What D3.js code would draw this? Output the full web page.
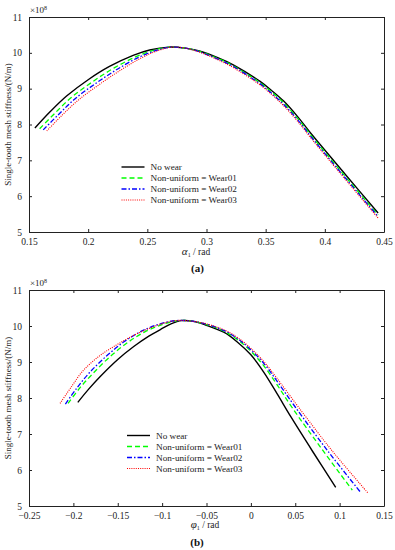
<!DOCTYPE html>
<html>
<head>
<meta charset="utf-8">
<script src="https://cdn.jsdelivr.net/npm/d3@7"></script>
<style>
  body { margin: 0; background: #fff; }
  svg { display: block; font-family: "Liberation Serif", "Times New Roman", serif; }
  .axis path, .axis line { stroke: #222; }
  .axis text { fill: #222; font-size: 9.5px; font-family: "Liberation Serif", "Times New Roman", serif; }
</style>
</head>
<body>
<svg id="chart" width="395" height="550"></svg>
<script>
// ---- data: [angle (rad), stiffness (x10^8 N/m)] ----
var seriesNames = ["No wear", "Non-uniform = Wear01", "Non-uniform = Wear02", "Non-uniform = Wear03"];

var aNoWear = [[0.155,7.90],[0.168,8.36],[0.182,8.80],[0.200,9.25],[0.218,9.62],[0.238,9.93],[0.252,10.08],[0.268,10.16],[0.282,10.13],[0.294,10.05],[0.310,9.86],[0.323,9.66],[0.345,9.21],[0.355,8.95],[0.365,8.66],[0.377,8.22],[0.389,7.72],[0.417,6.62],[0.445,5.53]];
var aWear01 = [[0.159,7.88],[0.172,8.32],[0.186,8.76],[0.204,9.20],[0.222,9.58],[0.241,9.90],[0.255,10.07],[0.269,10.16],[0.282,10.13],[0.294,10.04],[0.310,9.84],[0.323,9.63],[0.345,9.17],[0.355,8.91],[0.365,8.61],[0.377,8.17],[0.389,7.67],[0.417,6.56],[0.445,5.47]];
var aWear02 = [[0.162,7.85],[0.175,8.28],[0.189,8.72],[0.207,9.16],[0.225,9.55],[0.243,9.88],[0.257,10.06],[0.270,10.16],[0.282,10.13],[0.294,10.03],[0.310,9.82],[0.323,9.61],[0.345,9.14],[0.355,8.87],[0.365,8.57],[0.377,8.13],[0.389,7.63],[0.417,6.52],[0.445,5.43]];
var aWear03 = [[0.165,7.82],[0.178,8.26],[0.192,8.69],[0.210,9.13],[0.228,9.53],[0.245,9.86],[0.258,10.05],[0.271,10.16],[0.282,10.13],[0.294,10.02],[0.310,9.80],[0.323,9.58],[0.345,9.11],[0.355,8.84],[0.365,8.53],[0.377,8.09],[0.389,7.59],[0.417,6.48],[0.445,5.39]];

var bNoWear = [[-0.195,7.88],[-0.183,8.24],[-0.170,8.59],[-0.150,9.07],[-0.132,9.43],[-0.115,9.72],[-0.102,9.90],[-0.090,10.06],[-0.078,10.15],[-0.065,10.13],[-0.050,10.02],[-0.030,9.82],[-0.015,9.55],[0.000,9.20],[0.015,8.70],[0.030,8.10],[0.045,7.48],[0.070,6.50],[0.0956,5.52]];
var bWear01 = [[-0.206,7.85],[-0.192,8.30],[-0.178,8.68],[-0.160,9.12],[-0.140,9.52],[-0.120,9.83],[-0.100,10.04],[-0.082,10.15],[-0.068,10.14],[-0.050,10.04],[-0.030,9.85],[-0.015,9.62],[0.000,9.30],[0.015,8.88],[0.030,8.35],[0.046,7.75],[0.080,6.58],[0.1143,5.44]];
var bWear02 = [[-0.209,7.83],[-0.196,8.28],[-0.182,8.70],[-0.163,9.16],[-0.143,9.56],[-0.122,9.87],[-0.102,10.06],[-0.084,10.15],[-0.068,10.14],[-0.050,10.05],[-0.030,9.87],[-0.015,9.65],[0.000,9.34],[0.015,8.95],[0.030,8.45],[0.050,7.75],[0.086,6.55],[0.123,5.40]];
var bWear03 = [[-0.215,7.85],[-0.202,8.32],[-0.189,8.76],[-0.170,9.18],[-0.151,9.48],[-0.132,9.74],[-0.114,9.94],[-0.098,10.08],[-0.085,10.15],[-0.068,10.14],[-0.050,10.06],[-0.030,9.89],[-0.015,9.68],[0.000,9.38],[0.015,9.00],[0.030,8.53],[0.0535,7.75],[0.092,6.52],[0.1316,5.37]];

var yTicks = [5, 6, 7, 8, 9, 10, 11];
var aTicks = [0.15, 0.2, 0.25, 0.3, 0.35, 0.4, 0.45];
var bTicks = [-0.25, -0.2, -0.15, -0.1, -0.05, 0, 0.05, 0.1, 0.15];

var styles = [
  {color: "#000000", dash: null, width: 1.4},
  {color: "#00ff00", dash: "5,3", width: 1.3},
  {color: "#0000ff", dash: "5,2,1.5,2", width: 1.3},
  {color: "#ff0000", dash: "1,1.2", width: 1.1}
];

var svg = d3.select("#chart");
var fmt = function(d) { return d === 0 ? "0" : String(d).replace("-", "\u2212"); };

function drawPanel(cfg) {
  var x = d3.scaleLinear().domain(cfg.xDomain).range([29, 384]);
  var y = d3.scaleLinear().domain([5, 11]).range([cfg.bottom, cfg.top]);
  var g = svg.append("g");

  g.append("g").attr("class", "axis")
    .attr("transform", "translate(0," + cfg.bottom + ")")
    .call(d3.axisBottom(x).tickValues(cfg.xTicks).tickSizeInner(-3).tickSizeOuter(0).tickPadding(6).tickFormat(fmt));
  g.append("g").attr("class", "axis")
    .attr("transform", "translate(0," + cfg.top + ")")
    .call(d3.axisTop(x).tickValues(cfg.xTicks).tickSizeInner(-3).tickSizeOuter(0).tickFormat(""));
  g.append("g").attr("class", "axis")
    .attr("transform", "translate(29,0)")
    .call(d3.axisLeft(y).tickValues(yTicks).tickSizeInner(-3).tickSizeOuter(0).tickPadding(7).tickFormat(d3.format("d")));
  g.append("g").attr("class", "axis")
    .attr("transform", "translate(384,0)")
    .call(d3.axisRight(y).tickValues(yTicks).tickSizeInner(-3).tickSizeOuter(0).tickFormat(""));
  g.selectAll(".axis").attr("font-family", null).attr("font-size", null);

  var line = d3.line().x(function(d) { return x(d[0]); }).y(function(d) { return y(d[1]); }).curve(d3.curveCatmullRom.alpha(0.5));

  cfg.series.forEach(function(s, i) {
    g.append("path").datum(s)
      .attr("fill", "none")
      .attr("stroke", styles[i].color)
      .attr("stroke-width", styles[i].width)
      .attr("stroke-dasharray", styles[i].dash)
      .attr("d", line);
  });

  // legend
  seriesNames.forEach(function(name, i) {
    var ly = cfg.legend[1] + i * 11;
    g.append("line")
      .attr("x1", cfg.legend[0]).attr("x2", cfg.legend[0] + 23)
      .attr("y1", ly).attr("y2", ly)
      .attr("stroke", styles[i].color)
      .attr("stroke-width", styles[i].width)
      .attr("stroke-dasharray", styles[i].dash);
    g.append("text")
      .attr("x", cfg.legend[0] + 29).attr("y", ly + 3.2)
      .attr("font-size", 9.2).attr("fill", "#222")
      .text(name);
  });

  // exponent
  var ex = g.append("text").attr("x", 30).attr("y", cfg.top - 4).attr("font-size", 9).attr("fill", "#222");
  ex.append("tspan").text("\u00d710");
  ex.append("tspan").attr("font-size", 6).attr("dy", -3.5).text("8");

  // y label
  g.append("text")
    .attr("transform", "translate(11," + ((cfg.top + cfg.bottom) / 2) + ") rotate(-90)")
    .attr("text-anchor", "middle")
    .attr("font-size", 9).attr("fill", "#222")
    .text("Single-tooth mesh stiffness/(N/m)");

  // x label
  var xl = g.append("text")
    .attr("x", cfg.xLabel[0]).attr("y", cfg.xLabel[1])
    .attr("text-anchor", "middle").attr("font-size", 9.5).attr("fill", "#222");
  xl.append("tspan").attr("font-style", "italic").attr("font-size", 11).text(cfg.symbol);
  xl.append("tspan").attr("font-size", 6).attr("dy", 2).text("1");
  xl.append("tspan").attr("dy", -2).text(" / rad");

  g.append("text")
    .attr("x", cfg.tag[0]).attr("y", cfg.tag[1])
    .attr("text-anchor", "middle").attr("font-size", 11).attr("font-weight", "bold").attr("fill", "#111")
    .text(cfg.tagText);
}

drawPanel({
  xDomain: [0.15, 0.45], xTicks: aTicks, top: 17, bottom: 232,
  series: [aNoWear, aWear01, aWear02, aWear03],
  legend: [121.5, 167], xLabel: [196, 255], symbol: "\u03b1",
  tag: [197.5, 272], tagText: "(a)"
});

drawPanel({
  xDomain: [-0.25, 0.15], xTicks: bTicks, top: 290, bottom: 506,
  series: [bNoWear, bWear01, bWear02, bWear03],
  legend: [127, 435.5], xLabel: [205, 528], symbol: "\u03c6",
  tag: [197, 545.5], tagText: "(b)"
});
</script>
</body>
</html>
